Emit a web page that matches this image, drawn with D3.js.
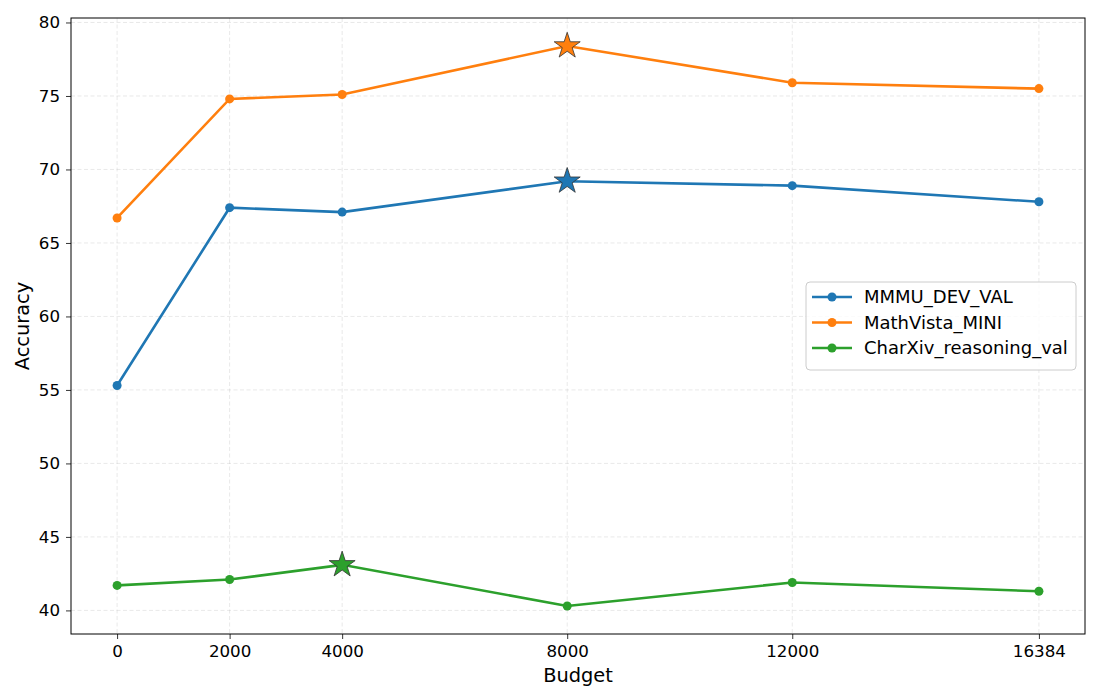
<!DOCTYPE html>
<html>
<head>
<meta charset="utf-8">
<script src="https://cdn.jsdelivr.net/npm/d3@7"></script>
<style>
  body { margin: 0; background: #fff; }
  svg { font-family: "DejaVu Sans", sans-serif; }
</style>
</head>
<body>
<div id="chart"></div>
<script>
// data
const budgets = [0, 2000, 4000, 8000, 12000, 16384];
const xTicks = [0, 2000, 4000, 8000, 12000, 16384];
const yTicks = [40, 45, 50, 55, 60, 65, 70, 75, 80];
const seriesNames = ["MMMU_DEV_VAL", "MathVista_MINI", "CharXiv_reasoning_val"];
const mmmuValues = [55.3, 67.4, 67.1, 69.2, 68.9, 67.8];
const mathvistaValues = [66.7, 74.8, 75.1, 78.4, 75.9, 75.5];
const charxivValues = [41.7, 42.1, 43.1, 40.3, 41.9, 41.3];
const colours = ["#1f77b4", "#ff7f0e", "#2ca02c"];

const series = [mmmuValues, mathvistaValues, charxivValues].map((vals, i) => ({
    name: seriesNames[i],
    colour: colours[i],
    points: vals.map((v, j) => ({ x: budgets[j], y: v }))
}));

const W = 1100, H = 700;
const margin = { top: 18, right: 15, bottom: 66, left: 71 };
const width = W - margin.left - margin.right;
const height = H - margin.top - margin.bottom;

const svg = d3.select("#chart").append("svg")
    .attr("width", W)
    .attr("height", H);

const g = svg.append("g")
    .attr("transform", "translate(" + margin.left + "," + margin.top + ")");

// matplotlib style 5% margins
const allY = series.flatMap(s => s.points.map(p => p.y));
const yMin = d3.min(allY), yMax = d3.max(allY);
const yPad = (yMax - yMin) * 0.05;
const xPad = 16384 * 0.05;

const x = d3.scaleLinear().domain([-xPad, 16384 + xPad]).range([0, width]);
const y = d3.scaleLinear().domain([yMin - yPad, yMax + yPad]).range([height, 0]);

// grid
g.append("g").selectAll("line").data(xTicks).join("line")
    .attr("x1", d => x(d)).attr("x2", d => x(d))
    .attr("y1", 0).attr("y2", height)
    .attr("stroke", "#b0b0b0").attr("stroke-opacity", 0.35)
    .attr("stroke-width", 0.8).attr("stroke-dasharray", "4,2.5");
g.append("g").selectAll("line").data(yTicks).join("line")
    .attr("x1", 0).attr("x2", width)
    .attr("y1", d => y(d)).attr("y2", d => y(d))
    .attr("stroke", "#b0b0b0").attr("stroke-opacity", 0.35)
    .attr("stroke-width", 0.8).attr("stroke-dasharray", "4,2.5");

// axes
const xAxis = g.append("g")
    .attr("transform", "translate(0," + height + ")")
    .call(d3.axisBottom(x).tickValues(xTicks).tickFormat(d => d).tickSize(5).tickPadding(6));
const yAxis = g.append("g")
    .call(d3.axisLeft(y).tickValues(yTicks).tickSize(5).tickPadding(6));

[xAxis, yAxis].forEach(a => {
    a.select(".domain").remove();
    a.selectAll("line").attr("stroke", "#000").attr("stroke-width", 0.8);
    a.selectAll("text").attr("font-size", "16.7px").attr("fill", "#000")
        .attr("font-family", "DejaVu Sans");
});

// frame
g.append("rect")
    .attr("width", width).attr("height", height)
    .attr("fill", "none").attr("stroke", "#000").attr("stroke-width", 1);

// lines
const line = d3.line().x(d => x(d.x)).y(d => y(d.y));

series.forEach(s => {
    g.append("path")
        .datum(s.points)
        .attr("d", line)
        .attr("fill", "none")
        .attr("stroke", s.colour)
        .attr("stroke-width", 2.6);

    const best = d3.greatest(s.points, p => p.y);
    g.append("g").selectAll("circle")
        .data(s.points.filter(p => p !== best))
        .join("circle")
        .attr("cx", d => x(d.x)).attr("cy", d => y(d.y))
        .attr("r", 4.5)
        .attr("fill", s.colour);

    // star on the best budget
    g.append("path")
        .attr("d", d3.symbol(d3.symbolStar, 210)())
        .attr("transform", "translate(" + x(best.x) + "," + y(best.y) + ")")
        .attr("fill", s.colour)
        .attr("stroke", "#333")
        .attr("stroke-width", 0.8);
});

// axis titles
g.append("text")
    .attr("x", width / 2).attr("y", height + 48)
    .attr("text-anchor", "middle")
    .attr("font-size", "19.4px")
    .text("Budget");
g.append("text")
    .attr("transform", "rotate(-90)")
    .attr("x", -height / 2).attr("y", -42)
    .attr("text-anchor", "middle")
    .attr("font-size", "19.4px")
    .text("Accuracy");

// legend
const legend = g.append("g")
    .attr("transform", "translate(" + (806 - margin.left) + "," + (282 - margin.top) + ")");
legend.append("rect")
    .attr("width", 270).attr("height", 88)
    .attr("rx", 4)
    .attr("fill", "#fff").attr("fill-opacity", 0.8)
    .attr("stroke", "#ccc").attr("stroke-width", 1);

series.forEach((s, i) => {
    const row = legend.append("g").attr("transform", "translate(0," + (15 + i * 25.5) + ")");
    row.append("line")
        .attr("x1", 6).attr("x2", 46)
        .attr("stroke", s.colour).attr("stroke-width", 2.6);
    row.append("circle")
        .attr("cx", 26).attr("r", 4.5)
        .attr("fill", s.colour);
    row.append("text")
        .attr("x", 58).attr("dy", "0.35em")
        .attr("font-size", "18px")
        .text(s.name);
});
</script>
</body>
</html>
